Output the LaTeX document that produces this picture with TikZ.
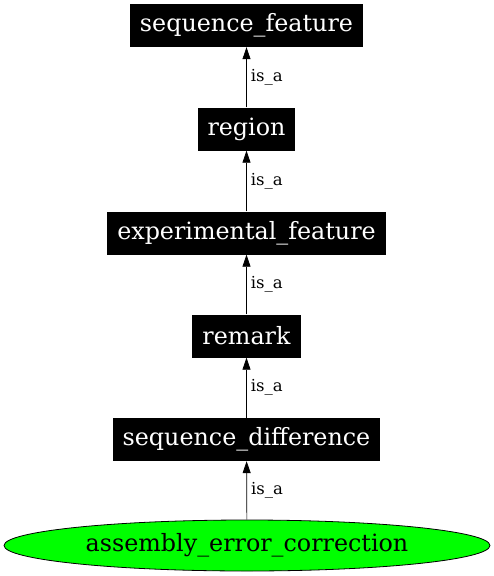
\documentclass[tikz,border=0pt]{standalone}
\usepackage{fontspec}
\setmainfont{DejaVu Serif}
\usetikzlibrary{shapes.geometric,arrows.meta}
\begin{document}
\begin{tikzpicture}[x=1pt,y=-1pt,
  termbox/.style={rectangle,fill=black,text=white,inner xsep=10pt,inner ysep=0pt,minimum height=43pt,font=\fontsize{23.8}{26}\selectfont},
  leafnode/.style={ellipse,draw=black,line width=0.8pt,fill=green,inner sep=0pt,minimum width=486pt,minimum height=51pt,font=\fontsize{23.8}{26}\selectfont},
  isa/.style={-{Triangle[length=12pt,width=8pt]},draw=black,line width=0.7pt},
  lab/.style={anchor=west,inner sep=0pt,font=\fontsize{16.5}{18}\selectfont}]
\useasboundingbox (0,0) rectangle (494,576);
\node[termbox] (sf) at (246.5,25.5) {sequence\_feature};
\node[termbox] (rg) at (246.5,129) {region};
\node[termbox] (ef) at (246.5,233) {experimental\_feature};
\node[termbox] (rm) at (246.5,336) {remark};
\node[termbox] (sd) at (246.5,439.5) {sequence\_difference};
\node[leafnode] (ae) at (247,545.5) {assembly\_error\_correction};
\draw[isa] (rg) -- (sf) node[lab,pos=0.5,xshift=4pt] {is\_a};
\draw[isa] (ef) -- (rg) node[lab,pos=0.5,xshift=4pt] {is\_a};
\draw[isa] (rm) -- (ef) node[lab,pos=0.5,xshift=4pt] {is\_a};
\draw[isa] (sd) -- (rm) node[lab,pos=0.5,xshift=4pt] {is\_a};
\draw[isa] (ae) -- (sd) node[lab,pos=0.5,xshift=4pt] {is\_a};
\end{tikzpicture}
\end{document}
